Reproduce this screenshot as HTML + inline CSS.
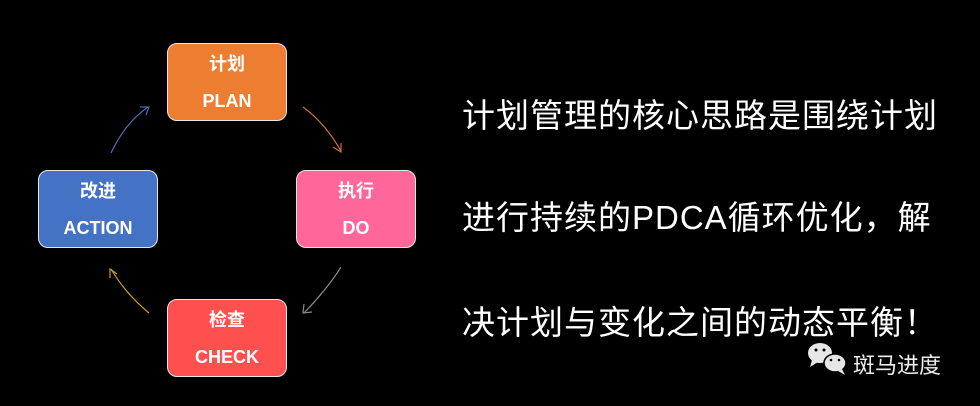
<!DOCTYPE html>
<html><head><meta charset="utf-8"><style>
body{margin:0;width:980px;height:406px;background:#000;overflow:hidden;position:relative;font-family:"Liberation Sans","Noto Sans CJK SC",sans-serif}
.b{position:absolute;width:120px;height:78px;border:1px solid #e8e8e8;border-radius:10px;color:#fff;font-weight:bold;text-align:center;box-sizing:border-box}
.b .c{position:absolute;left:0;right:0;top:6px;font-size:18px}
.b .e{position:absolute;left:0;right:0;top:47px;font-size:18px}
.t{position:absolute;left:462px;color:#fff;font-size:33px;white-space:nowrap;letter-spacing:1px}
</style></head><body>
<div class="b" style="left:167px;top:43px;background:#ed7d31"><div class="c">计划</div><div class="e">PLAN</div></div>
<div class="b" style="left:38px;top:170px;background:#4472c4"><div class="c">改进</div><div class="e">ACTION</div></div>
<div class="b" style="left:296px;top:170px;background:#ff6699"><div class="c">执行</div><div class="e">DO</div></div>
<div class="b" style="left:167px;top:299px;background:#ff5050"><div class="c">检查</div><div class="e">CHECK</div></div>
<svg width="980" height="406" style="position:absolute;left:0;top:0">
<g fill="none" stroke-width="1.2">
<path d="M111 153 Q125 123 148 107" stroke="#4a6db0"/><path d="M140 107 L149 107 L146 115" stroke="#4a6db0"/>
<path d="M303 107 Q325 123 341 151" stroke="#c8743a"/><path d="M333 147 L341 152 L341 143" stroke="#c8743a"/>
<path d="M341 267 Q328 288 304 313" stroke="#888"/><path d="M304 304 L303 313 L312 312" stroke="#888"/>
<path d="M149 313 Q125 293 111 269" stroke="#c8a020"/><path d="M110 278 L110 269 L117 274" stroke="#c8a020"/>
</g>
<g fill="#e6e6e6">
<ellipse cx="820" cy="353" rx="12" ry="10"/><path d="M812 360 L810 367 L818 362Z"/>
<ellipse cx="835" cy="363" rx="11" ry="9" stroke="#000" stroke-width="1.5"/><path d="M842 369 L845 375 L838 371Z"/>
</g>
<g fill="#000"><circle cx="816" cy="350" r="1.5"/><circle cx="824" cy="350" r="1.5"/><circle cx="831" cy="360" r="1.3"/><circle cx="839" cy="360" r="1.3"/></g>
</svg>
<div class="t" style="top:89px">计划管理的核心思路是围绕计划</div>
<div class="t" style="top:191px">进行持续的PDCA循环优化，解</div>
<div class="t" style="top:296px">决计划与变化之间的动态平衡！</div>
<div style="position:absolute;left:853px;top:348px;color:#eee;font-size:22px">斑马进度</div>
</body></html>
